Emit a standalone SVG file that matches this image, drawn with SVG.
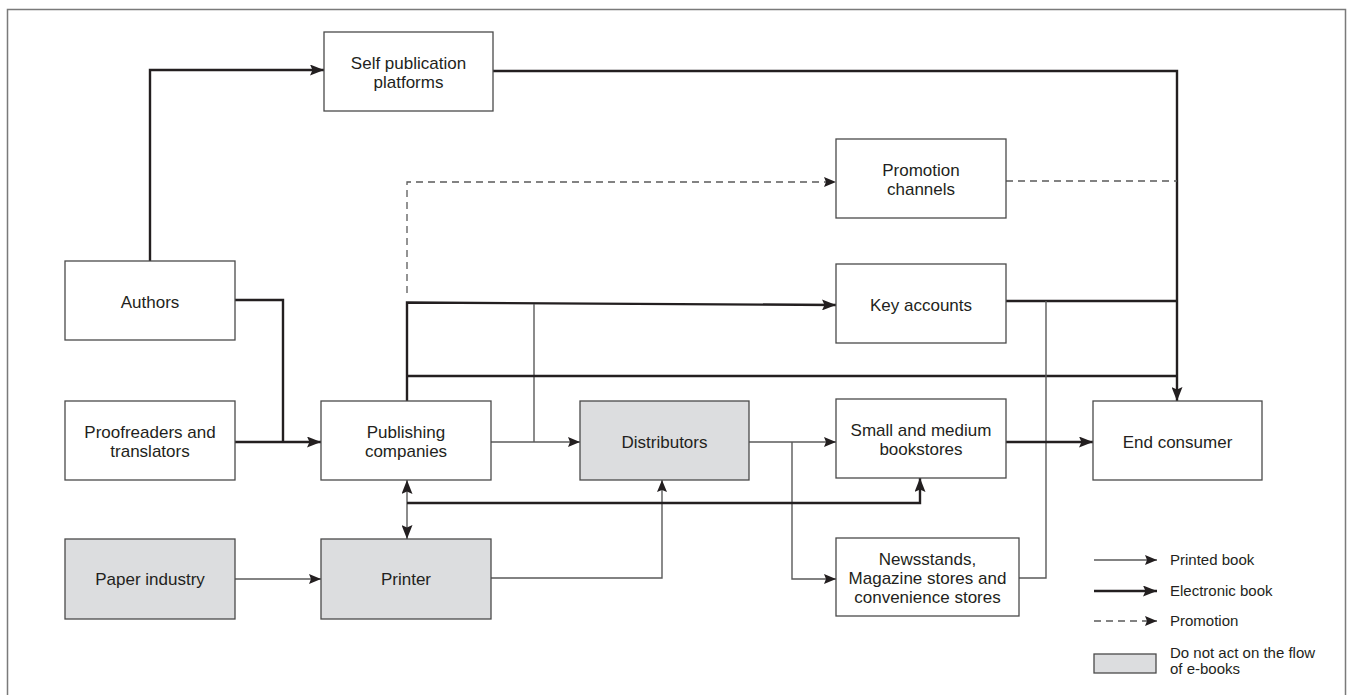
<svg xmlns="http://www.w3.org/2000/svg" width="1347" height="695" viewBox="0 0 1347 695">
<defs>
<style>
.box{fill:#fff;stroke:#4a4a4a;stroke-width:1.3}
.gray{fill:#dcdddf;stroke:#4a4a4a;stroke-width:1.3}
.t{font-family:"Liberation Sans",Arial,sans-serif;font-size:17px;fill:#231f20;text-anchor:middle}
.lg{font-family:"Liberation Sans",Arial,sans-serif;font-size:15px;fill:#231f20}
.thick{fill:none;stroke:#231f20;stroke-width:2.4}
.thin{fill:none;stroke:#5a5a5a;stroke-width:1.4}
.dash{fill:none;stroke:#5a5a5a;stroke-width:1.3;stroke-dasharray:7 5}
</style>
<marker id="ah" viewBox="0 0 14 11" refX="14" refY="5.5" markerWidth="14" markerHeight="11" markerUnits="userSpaceOnUse" orient="auto-start-reverse">
<path d="M0,0 L14,5.5 L0,11 L2.5,5.5 z" fill="#231f20"/>
</marker>
<marker id="ahs" viewBox="0 0 12 10" refX="12" refY="5" markerWidth="12" markerHeight="10" markerUnits="userSpaceOnUse" orient="auto-start-reverse">
<path d="M0,0 L12,5 L0,10 L2,5 z" fill="#231f20"/>
</marker>
</defs>
<rect x="0" y="0" width="1347" height="695" fill="#fff"/>
<path d="M7.5,700 V9.5 H1345.5 V700" fill="none" stroke="#7a7a7a" stroke-width="1.5"/>

<g id="connectors">
<path class="thick" d="M150,261 V70 H324" marker-end="url(#ah)"/>
<path class="thick" d="M493,71 H1177 V401" marker-end="url(#ah)"/>
<path class="dash" d="M407,293 V182 H836" marker-end="url(#ahs)"/>
<path class="dash" d="M1006,181 H1177"/>
<path class="thick" d="M407,401 V302.5 L836,305" marker-end="url(#ah)"/>
<path class="thin" d="M534,304 V442"/>
<path class="thick" d="M407,376 H1177"/>
<path class="thick" d="M1002,301 H1177"/>
<path class="thin" d="M1019,578 H1046 V301"/>
<path class="thick" d="M235,300 H283 V442"/>
<path class="thick" d="M235,442 H321" marker-end="url(#ah)"/>
<path class="thin" d="M491,442 H580" marker-end="url(#ahs)"/>
<path class="thin" d="M749,442 H836" marker-end="url(#ahs)"/>
<path class="thin" d="M792,442 V579 H836" marker-end="url(#ahs)"/>
<path class="thick" d="M1006,442 H1093" marker-end="url(#ah)"/>
<path class="thin" d="M235,579 H321" marker-end="url(#ahs)"/>
<path class="thin" d="M491,578 H662 V480" marker-end="url(#ahs)"/>
<path class="thin" d="M407,480 V539" stroke="#231f20" marker-start="url(#ah)" marker-end="url(#ah)"/>
<path class="thick" d="M407,503 H920 V478" marker-end="url(#ah)"/>
</g>

<g id="self-publication">
<rect class="box" x="324" y="32" width="169" height="79"/>
<text class="t" x="408.5" y="69">Self publication</text>
<text class="t" x="408.5" y="88">platforms</text>
</g>
<g id="authors">
<rect class="box" x="65" y="261" width="170" height="79"/>
<text class="t" x="150" y="308">Authors</text>
</g>
<g id="proofreaders">
<rect class="box" x="65" y="401" width="170" height="79"/>
<text class="t" x="150" y="438">Proofreaders and</text>
<text class="t" x="150" y="457">translators</text>
</g>
<g id="paper-industry">
<rect class="gray" x="65" y="539" width="170" height="80"/>
<text class="t" x="150" y="585">Paper industry</text>
</g>
<g id="publishing">
<rect class="box" x="321" y="401" width="170" height="79"/>
<text class="t" x="406" y="438">Publishing</text>
<text class="t" x="406" y="457">companies</text>
</g>
<g id="printer">
<rect class="gray" x="321" y="539" width="170" height="80"/>
<text class="t" x="406" y="585">Printer</text>
</g>
<g id="distributors">
<rect class="gray" x="580" y="401" width="169" height="79"/>
<text class="t" x="664.5" y="448">Distributors</text>
</g>
<g id="promotion-channels">
<rect class="box" x="836" y="139" width="170" height="79"/>
<text class="t" x="921" y="176">Promotion</text>
<text class="t" x="921" y="195">channels</text>
</g>
<g id="key-accounts">
<rect class="box" x="836" y="264" width="170" height="79"/>
<text class="t" x="921" y="311">Key accounts</text>
</g>
<g id="small-medium-bookstores">
<rect class="box" x="836" y="399" width="170" height="79"/>
<text class="t" x="921" y="436">Small and medium</text>
<text class="t" x="921" y="455">bookstores</text>
</g>
<g id="newsstands">
<rect class="box" x="836" y="538" width="183" height="78"/>
<text class="t" x="927.5" y="565">Newsstands,</text>
<text class="t" x="927.5" y="584">Magazine stores and</text>
<text class="t" x="927.5" y="603">convenience stores</text>
</g>
<g id="end-consumer">
<rect class="box" x="1093" y="401" width="169" height="79"/>
<text class="t" x="1177.5" y="448">End consumer</text>
</g>

<g id="legend">
<path class="thin" d="M1094,560 H1157" marker-end="url(#ahs)"/>
<text class="lg" x="1170" y="565">Printed book</text>
<path class="thick" d="M1094,591 H1157" marker-end="url(#ah)"/>
<text class="lg" x="1170" y="596">Electronic book</text>
<path class="dash" d="M1094,621 H1157" stroke-dasharray="6 5" marker-end="url(#ahs)"/>
<text class="lg" x="1170" y="626">Promotion</text>
<rect class="gray" x="1094" y="654" width="62" height="19"/>
<text class="lg" x="1170" y="658">Do not act on the flow</text>
<text class="lg" x="1170" y="674">of e-books</text>
</g>
</svg>
